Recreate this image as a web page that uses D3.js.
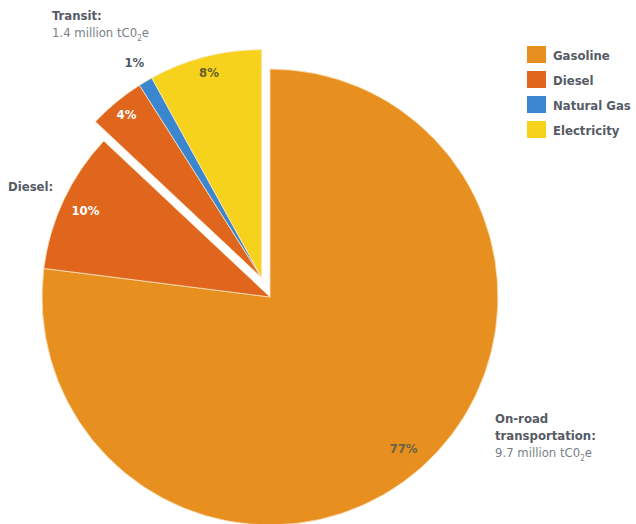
<!DOCTYPE html>
<html>
<head>
<meta charset="utf-8">
<script src="https://cdn.jsdelivr.net/npm/d3@7"></script>
<style>
  body { margin: 0; background: #fff; }
  text { font-family: "DejaVu Sans Condensed", "Liberation Sans Narrow", sans-serif; }
</style>
</head>
<body>
<div id="chart"></div>
<script>
const categories = ["Gasoline", "Diesel", "Diesel", "Natural Gas", "Electricity"];
const values = [77, 10, 4, 1, 8];
const groups = ["road", "road", "transit", "transit", "transit"];
const legendLabels = ["Gasoline", "Diesel", "Natural Gas", "Electricity"];

const width = 636;
const height = 524;
const cx = 270, cy = 297;
const radius = 228;
const explode = 21;

const color = d3
  .scaleOrdinal()
  .domain(legendLabels)
  .range(["#e8901f", "#e0661e", "#3a86cf", "#f6d21c"]);

const svg = d3
  .select("#chart")
  .append("svg")
  .attr("width", width)
  .attr("height", height);

const data = categories.map((c, i) => ({ cat: c, value: values[i], group: groups[i], i }));

const pie = d3.pie().sort(null).value((d) => d.value);
const arcs = pie(data);
const arc = d3.arc().innerRadius(0).outerRadius(radius);

// transit slices are pulled out along the middle of their group
const transit = arcs.filter((a) => a.data.group === "transit");
const tMid = (transit[0].startAngle + transit[transit.length - 1].endAngle) / 2;
const offset = (a) =>
  a.data.group === "transit"
    ? [explode * Math.sin(tMid), -explode * Math.cos(tMid)]
    : [0, 0];

const g = svg.append("g").attr("transform", `translate(${cx},${cy})`);

g.selectAll("path.slice")
  .data(arcs)
  .enter()
  .append("path")
  .attr("class", "slice")
  .attr("transform", (d) => `translate(${offset(d)})`)
  .attr("d", arc)
  .style("fill", (d) => color(d.data.cat))
  .style("stroke", "#fbe3c0")
  .style("stroke-width", 0.8);

// percentage labels
const labelR = [202, 204, 212, 250, 212];
const labelFill = ["#6a6249", "#fff", "#fff", "#4f5563", "#6a5e2a"];
g.selectAll("text.pct")
  .data(arcs)
  .enter()
  .append("text")
  .attr("class", "pct")
  .attr("x", (d) => {
    const m = (d.startAngle + d.endAngle) / 2;
    return offset(d)[0] + labelR[d.data.i] * Math.sin(m);
  })
  .attr("y", (d) => {
    const m = (d.startAngle + d.endAngle) / 2;
    return offset(d)[1] - labelR[d.data.i] * Math.cos(m);
  })
  .attr("dy", "0.35em")
  .attr("text-anchor", "middle")
  .style("font-size", "13px")
  .style("font-weight", "bold")
  .style("fill", (d) => labelFill[d.data.i])
  .text((d) => d.data.value + "%");

// annotations
function note(x, y, bold, plain) {
  const t = svg.append("g").attr("transform", `translate(${x},${y})`);
  bold.forEach((line, k) => {
    t.append("text")
      .attr("y", k * 17)
      .style("font-size", "13px")
      .style("font-weight", "bold")
      .style("fill", "#565b66")
      .text(line);
  });
  if (plain) {
    const p = t.append("text")
      .attr("y", bold.length * 17)
      .style("font-size", "13px")
      .style("fill", "#7a7f88");
    p.append("tspan").text(plain + " tC0");
    p.append("tspan").attr("dy", 4).style("font-size", "8px").text("2");
    p.append("tspan").attr("dy", -4).text("e");
  }
}
note(52, 20, ["Transit:"], "1.4 million");
note(8, 191, ["Diesel:"], null);
note(495, 423, ["On-road", "transportation:"], "9.7 million");

// legend
const legend = svg
  .selectAll("g.legend")
  .data(legendLabels)
  .enter()
  .append("g")
  .attr("class", "legend")
  .attr("transform", (d, i) => `translate(527,${46 + i * 25})`);

legend
  .append("rect")
  .attr("width", 19)
  .attr("height", 17)
  .style("fill", (d) => color(d));

legend
  .append("text")
  .attr("x", 26)
  .attr("y", 9)
  .attr("dy", "0.35em")
  .style("font-size", "13px")
  .style("font-weight", "bold")
  .style("fill", "#565b66")
  .text((d) => d);
</script>
</body>
</html>
